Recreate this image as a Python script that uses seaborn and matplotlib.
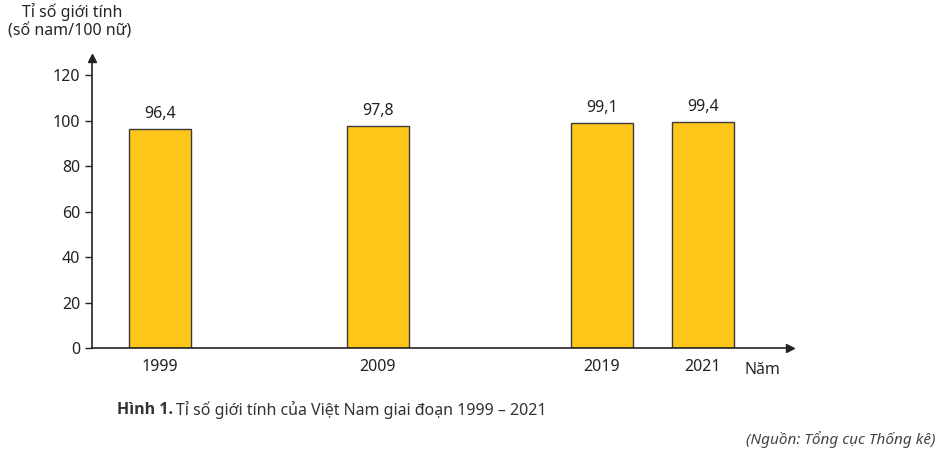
import matplotlib
matplotlib.use("Agg")
import matplotlib.pyplot as plt
import pandas as pd
import seaborn as sns

years = ["1999", "2009", "2019", "2021"]
ratios = [96.4, 97.8, 99.1, 99.4]
labels = ["96,4", "97,8", "99,1", "99,4"]
# horizontal slot of each bar along the axis (axis drawn uneven in the source)
slots = [68, 286, 510, 611]

sns.set_theme(style="white")
plt.rcParams["font.family"] = ["Noto Sans", "DejaVu Sans"]

fig = plt.figure(figsize=(9.41, 4.62), dpi=100)
ax = fig.add_axes([92 / 941, 1 - 348 / 462, 698 / 941, 290 / 462])

df = pd.DataFrame({"slot": slots, "ratio": ratios})
# with native_scale the width is a fraction of the smallest gap between slots
sns.barplot(data=df, x="slot", y="ratio", native_scale=True, width=0.61,
            color="#FFC61A", saturation=1, edgecolor="#3a3a3a", linewidth=1, ax=ax)

for s, v, lab in zip(slots, ratios, labels):
    ax.text(s, v + 3, lab, ha="center", va="bottom", fontsize=11.5, color="#222")

ax.set_xlim(0, 698)
ax.set_ylim(0, 127.5)
ax.set_yticks(range(0, 121, 20))
ax.set_xticks(slots)
ax.set_xticklabels(years)
ax.tick_params(axis="both", labelsize=11.5, colors="#222", length=5, width=1,
               direction="out")
ax.tick_params(axis="x", length=0, pad=8)
ax.tick_params(axis="y", left=True)
ax.set_xlabel("")
ax.set_ylabel("")
for side in ["top", "right"]:
    ax.spines[side].set_visible(False)
for side in ["left", "bottom"]:
    ax.spines[side].set_color("#222")
    ax.spines[side].set_linewidth(1.2)
ax.plot(1, 0, ">", transform=ax.transAxes, color="#222", clip_on=False, markersize=6)
ax.plot(0, 1, "^", transform=ax.transAxes, color="#222", clip_on=False, markersize=6)

fig.text(22 / 941, 1 - 12 / 462, "Tỉ số giới tính", fontsize=11.5, va="center")
fig.text(8 / 941, 1 - 32 / 462, "(số nam/100 nữ)", fontsize=11.5, va="center")
fig.text(745 / 941, 1 - 370 / 462, "Năm", fontsize=11.5, va="center")
fig.text(117 / 941, 1 - 410 / 462, "Hình 1.", fontsize=11.5, fontweight="bold",
         family=["Open Sans", "DejaVu Sans"], color="#333", va="center")
fig.text(176 / 941, 1 - 410 / 462, "Tỉ số giới tính của Việt Nam giai đoạn 1999 – 2021",
         fontsize=11.5, color="#333", va="center")
fig.text(935 / 941, 1 - 440 / 462, "(Nguồn: Tổng cục Thống kê)", fontsize=11,
         style="italic", color="#444", ha="right", va="center")

fig.savefig("out.png", dpi=100)
